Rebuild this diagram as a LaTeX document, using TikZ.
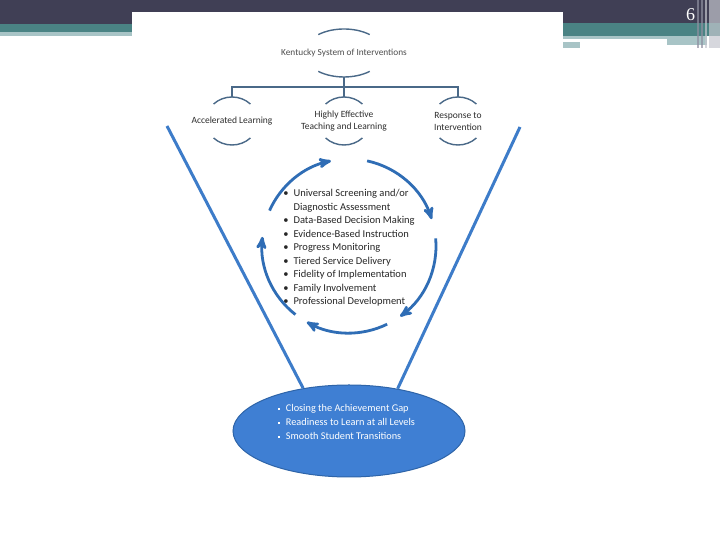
\documentclass[tikz,border=0pt]{standalone}
\usepackage{fontspec}
\setmainfont{Carlito}
\newfontfamily\slidenumfont{Liberation Serif}
\usepackage{xcolor}
\usepackage{tikz}
\usetikzlibrary{arrows, shapes.geometric}

\definecolor{slidedark}{HTML}{403F55}
\definecolor{slideteal}{HTML}{4A8384}
\definecolor{slidelight}{HTML}{A8C4C6}
\definecolor{stripegrey}{HTML}{C4C6CE}
\definecolor{stripemid}{HTML}{8E8FA0}
\definecolor{hierblue}{HTML}{4A6988}
\definecolor{hiergrey}{HTML}{2E2E2E}
\definecolor{funnelblue}{HTML}{3D7CC9}
\definecolor{cycleblue}{HTML}{2F6DB5}
\definecolor{goalfill}{HTML}{3F7FD3}
\definecolor{goaledge}{HTML}{2E64A8}
\definecolor{listgrey}{HTML}{262626}

\newcommand{\goalbullet}{\rule[1.6pt]{2.4pt}{2.4pt}}

\begin{document}
\begin{tikzpicture}[x=1pt, y=1pt,
				>=stealth',
				ring/.style={ellipse, inner sep=0pt, outer sep=0pt, minimum width=52pt, minimum height=48pt},
				hier/.style={draw=hierblue, line width=1.4pt},
				hiertext/.style={text=hiergrey, font=\fontsize{9.5}{12}\selectfont, align=center},
				funnel/.style={draw=funnelblue, line width=3pt},
				loopar/.style={->, draw=cycleblue, line width=2.8pt}]
				\useasboundingbox (0,0) rectangle (720,540);
				% slide background
				\fill[slidedark] (0,516) rectangle (720,540);
				\fill[slideteal] (0,508) rectangle (132,516);
				\fill[slidelight] (0,504) rectangle (132,508);
				\fill[slideteal] (563,504) rectangle (720,517);
				\fill[slidelight] (563,495) rectangle (707,504);
				\fill[white] (563,498) rectangle (667,501);
				\fill[white] (580,495) rectangle (667,498);
				\fill[slidelight] (563,492) rectangle (580,498);
				\fill[stripegrey, opacity=0.7] (709,492) rectangle (720,540);
				\fill[stripemid, opacity=0.7] (697,492) rectangle (699,540);
				\fill[stripemid, opacity=0.7] (701,492) rectangle (703,540);
				\fill[stripegrey, opacity=0.7] (705,492) rectangle (707,540);
				\node (pagenum) at (690.5,525.5) [text=white, font=\slidenumfont\fontsize{18}{18}\selectfont] {6};
				\fill[white] (132,0) rectangle (563,528);

				% hierarchy
				\node at (344,487) (kysi) [ring, minimum width=80pt] {};
				\node at (232,419) (accel) [ring] {};
				\node at (344,419) (hetl) [ring] {};
				\node at (458,419) (rti) [ring] {};
				\node at (kysi) (kysi-t) [hiertext, text=hiergrey!85, font=\fontsize{9.3}{12}\selectfont] {Kentucky System of Interventions};
				\node at (accel) (accel-t) [hiertext] {Accelerated Learning};
				\node at (hetl) (hetl-t) [hiertext] {Highly Effective\\Teaching and Learning};
				\node at (rti) (rti-t) [hiertext] {Response to\\Intervention};
				\draw[hier] ([shift={(130:40 and 24)}]kysi.center) arc[start angle=130, end angle=50, x radius=40, y radius=24];
				\draw[hier] ([shift={(-130:40 and 24)}]kysi.center) arc[start angle=-130, end angle=-50, x radius=40, y radius=24];
				\draw[hier] ([shift={(135:26 and 24)}]accel.center) arc[start angle=135, end angle=45, x radius=26, y radius=24];
				\draw[hier] ([shift={(-135:26 and 24)}]accel.center) arc[start angle=-135, end angle=-45, x radius=26, y radius=24];
				\draw[hier] ([shift={(135:26 and 24)}]hetl.center) arc[start angle=135, end angle=45, x radius=26, y radius=24];
				\draw[hier] ([shift={(-135:26 and 24)}]hetl.center) arc[start angle=-135, end angle=-45, x radius=26, y radius=24];
				\draw[hier] ([shift={(135:26 and 24)}]rti.center) arc[start angle=135, end angle=45, x radius=26, y radius=24];
				\draw[hier] ([shift={(-135:26 and 24)}]rti.center) arc[start angle=-135, end angle=-45, x radius=26, y radius=24];
				\draw[hier] (kysi.south) -- ++(0,-10) -| (accel.north);
				\draw[hier] (kysi.south) -- (hetl.north);
				\draw[hier] (kysi.south) -- ++(0,-10) -| (rti.north);

				% cycle of components
				\coordinate (hub) at (349,294);
				\node at (349,292) (steps) [text=listgrey, font=\fontsize{10.5}{13.5}\selectfont] {\begin{tabular}{@{}l@{\hspace{5pt}}l@{}}
					\textbullet & Universal Screening and/or\\
					 & Diagnostic Assessment\\
					\textbullet & Data-Based Decision Making\\
					\textbullet & Evidence-Based Instruction\\
					\textbullet & Progress Monitoring\\
					\textbullet & Tiered Service Delivery\\
					\textbullet & Fidelity of Implementation\\
					\textbullet & Family Involvement\\
					\textbullet & Professional Development
				\end{tabular}};
				\draw[loopar] ([shift={(156:87)}]hub) arc[start angle=156, end angle=102, radius=87];
				\draw[loopar] ([shift={(78:87)}]hub) arc[start angle=78, end angle=18, radius=87];
				\draw[loopar] ([shift={(5:87)}]hub) arc[start angle=5, end angle=-54, radius=87];
				\draw[loopar] ([shift={(-64:87)}]hub) arc[start angle=-64, end angle=-119, radius=87];
				\draw[loopar] ([shift={(-128:87)}]hub) arc[start angle=-128, end angle=-186, radius=87];

				% funnel and goals
				\coordinate (funL) at (167,414);
				\coordinate (funR) at (520,413);
				\node at (349,109) (goals) [ellipse, fill=goalfill, draw=goaledge, line width=1pt, minimum width=232pt, minimum height=92pt] {};
				\draw[funnel] (funL) -- (goals.137);
				\draw[funnel] (funR) -- (goals.41);
				\node at (274,117) (goalist) [anchor=west, text=white, font=\fontsize{10.3}{14}\selectfont] {\begin{tabular}{@{}l@{\hspace{6pt}}l@{}}
					\goalbullet & Closing the Achievement Gap\\
					\goalbullet & Readiness to Learn at all Levels\\
					\goalbullet & Smooth Student Transitions
				\end{tabular}};
			\end{tikzpicture}
\end{document}
